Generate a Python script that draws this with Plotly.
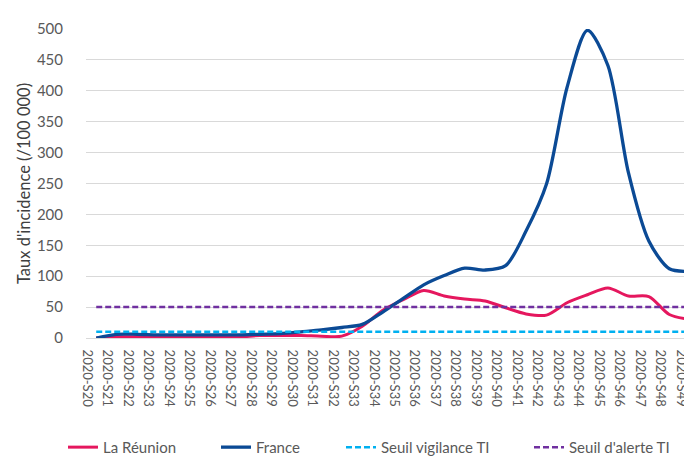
import plotly.graph_objects as go

weeks = [f"2020-S{w}" for w in range(20, 50)]
france = [0, 6, 6, 5, 5, 5, 5, 5, 6, 7, 10, 13, 17, 22, 42, 64, 86, 101, 113, 110,
          117, 173, 249, 405, 498, 441, 268, 157, 112, 108]
reunion = [0, 2, 2, 1, 1, 1, 2, 2, 4, 4, 4, 3, 3, 19, 45, 62, 77, 68, 63, 60,
           49, 39, 37, 57, 70, 81, 68, 67, 38, 30]
seuil_vigilance = [10] * len(weeks)
seuil_alerte = [50] * len(weeks)

fig = go.Figure()
fig.add_trace(go.Scatter(x=weeks, y=reunion, name="La Réunion", mode="lines", legend="legend",
                         line=dict(color="#E5175E", width=3, shape="spline", smoothing=0.8)))
fig.add_trace(go.Scatter(x=weeks, y=france, name="France", mode="lines", legend="legend2",
                         line=dict(color="#0B4A95", width=3.3, shape="spline", smoothing=0.8)))
fig.add_trace(go.Scatter(x=weeks, y=seuil_vigilance, name="Seuil vigilance TI", mode="lines",
                         legend="legend3",
                         line=dict(color="#00B0F0", width=2.5, dash="6px,3px")))
fig.add_trace(go.Scatter(x=weeks, y=seuil_alerte, name="Seuil d'alerte TI", mode="lines",
                         legend="legend4",
                         line=dict(color="#7030A0", width=2.5, dash="6px,3px")))

leg_common = dict(orientation="h", xanchor="left", y=-0.354, yanchor="middle",
                  font=dict(size=15, color="#595959"), bgcolor="rgba(0,0,0,0)")

fig.update_layout(
    width=692, height=456,
    margin=dict(l=78, r=0, t=21, b=117),
    paper_bgcolor="white", plot_bgcolor="white",
    font=dict(family="Lato, 'Open Sans', sans-serif", color="#595959", size=13),
    showlegend=True,
    legend=dict(x=-0.0375, **leg_common),
    legend2=dict(x=0.2117, **leg_common),
    legend3=dict(x=0.4153, **leg_common),
    legend4=dict(x=0.7215, **leg_common),
    xaxis=dict(type="category", range=[-0.5, 29.5], tickangle=90,
               tickfont=dict(size=13, color="#595959"), showgrid=False,
               showline=True, linecolor="#D9D9D9", linewidth=1,
               ticks="outside", ticklen=8, tickcolor="rgba(0,0,0,0)",
               ticklabelshift=-9, ticklabeloverflow="allow"),
    yaxis=dict(range=[0, 500], dtick=50, showgrid=True, gridcolor="#D9D9D9", gridwidth=1,
               zeroline=False, tickfont=dict(size=15, color="#595959"),
               ticks="outside", ticklen=19, tickcolor="rgba(0,0,0,0)",
               title=dict(text="Taux d'incidence (/100 000)", font=dict(size=16.5, color="#404040"),
                          standoff=2)),
)

fig.write_html("out.html")
